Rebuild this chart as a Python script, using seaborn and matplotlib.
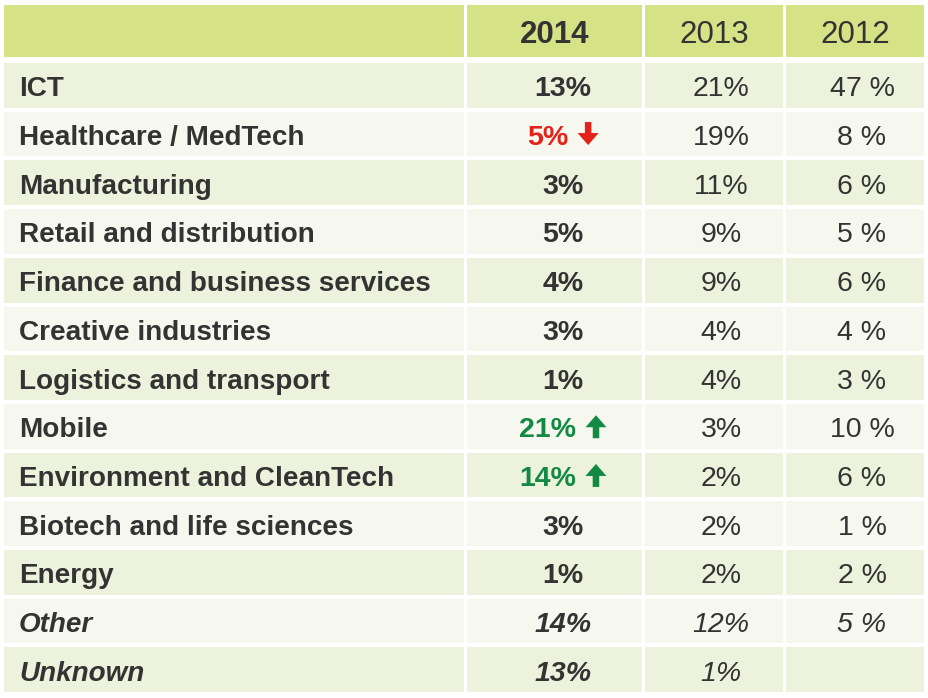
import numpy as np
import seaborn as sns
import matplotlib.pyplot as plt

# table data
years = ["2014", "2013", "2012"]
sectors = ["ICT", "Healthcare / MedTech", "Manufacturing", "Retail and distribution",
           "Finance and business services", "Creative industries", "Logistics and transport",
           "Mobile", "Environment and CleanTech", "Biotech and life sciences", "Energy",
           "Other", "Unknown"]
v2014 = ["13%", "5%", "3%", "5%", "4%", "3%", "1%", "21%", "14%", "3%", "1%", "14%", "13%"]
v2013 = ["21%", "19%", "11%", "9%", "9%", "4%", "4%", "3%", "2%", "2%", "2%", "12%", "1%"]
v2012 = ["47 %", "8 %", "6 %", "5 %", "6 %", "4 %", "3 %", "10 %", "6 %", "1 %", "2 %", "5 %", ""]
trend = [None, "down", None, None, None, None, None, "up", "up", None, None, None, None]
italic_rows = ["Other", "Unknown"]

sns.set_theme(style="white")
plt.rcParams['font.family'] = ['Liberation Sans', 'DejaVu Sans']

HEADER = "#d5e285"
ROW_A = "#edf2dc"
ROW_B = "#f6f8ef"
TXT = "#333333"
RED = "#e32219"
GREEN = "#138a43"

fig = plt.figure(figsize=(9.29, 6.98), dpi=100)
ax = fig.add_axes([0, 0, 1, 1])
ax.set_xlim(0, 929)
ax.set_ylim(698, 0)
ax.axis("off")

# column layout (pixel units)
col_left = [4, 467, 645, 786]
col_right = [464, 642, 783, 924]
col_w = [r - l for l, r in zip(col_left, col_right)]
col_c = [(l + r) / 2 for l, r in zip(col_left, col_right)]
val_c = [None, 563, 721, 862]

head_top, head_bot = 5, 57
row_top0, pitch, gap = 63, 48.7, 4
FS = 20.5
FS_LABEL = 20.1

# header cells
hc = (head_top + head_bot) / 2
ax.barh([hc] * 4, col_w, left=col_left, height=head_bot - head_top, color=HEADER, linewidth=0)
for j, y in enumerate(years):
    ax.text(col_c[j + 1], hc + 12, y, ha="center", va="baseline",
            fontsize=22.5, color=TXT, fontweight="bold" if j == 0 else "normal")

fig.canvas.draw()
renderer = fig.canvas.get_renderer()

# body rows
for i, name in enumerate(sectors):
    yc = row_top0 + i * pitch + (pitch - gap) / 2
    color = ROW_A if i % 2 == 0 else ROW_B
    ax.barh([yc] * 4, col_w, left=col_left, height=pitch - gap, color=color, linewidth=0)
    style = "italic" if name in italic_rows else "normal"
    yb = yc + 11
    ax.text(19, yb, name, ha="left", va="baseline", fontsize=FS_LABEL,
            fontweight="bold", fontstyle=style, color=TXT)

    t = trend[i]
    if t is None:
        ax.text(val_c[1], yb, v2014[i], ha="center", va="baseline", fontsize=FS,
                fontweight="bold", fontstyle=style, color=TXT)
    else:
        c = RED if t == "down" else GREEN
        txt = ax.text(0, yb, v2014[i], ha="left", va="baseline", fontsize=FS,
                      fontweight="bold", fontstyle=style, color=c)
        w = txt.get_window_extent(renderer).width
        total = w + 9 + 22
        left = val_c[1] - total / 2
        txt.set_x(left)
        xa = left + w + 9 + 11
        if t == "down":
            ax.arrow(xa, yc - 12, 0, 23, width=6.5, head_width=21, head_length=12,
                     length_includes_head=True, color=c, linewidth=0)
        else:
            ax.arrow(xa, yc + 12, 0, -23, width=6.5, head_width=21, head_length=12,
                     length_includes_head=True, color=c, linewidth=0)
    ax.text(val_c[2], yb, v2013[i], ha="center", va="baseline", fontsize=FS,
            fontstyle=style, color=TXT)
    ax.text(val_c[3], yb, v2012[i], ha="center", va="baseline", fontsize=FS,
            fontstyle=style, color=TXT)

fig.savefig("out.png", dpi=100, facecolor="white")
